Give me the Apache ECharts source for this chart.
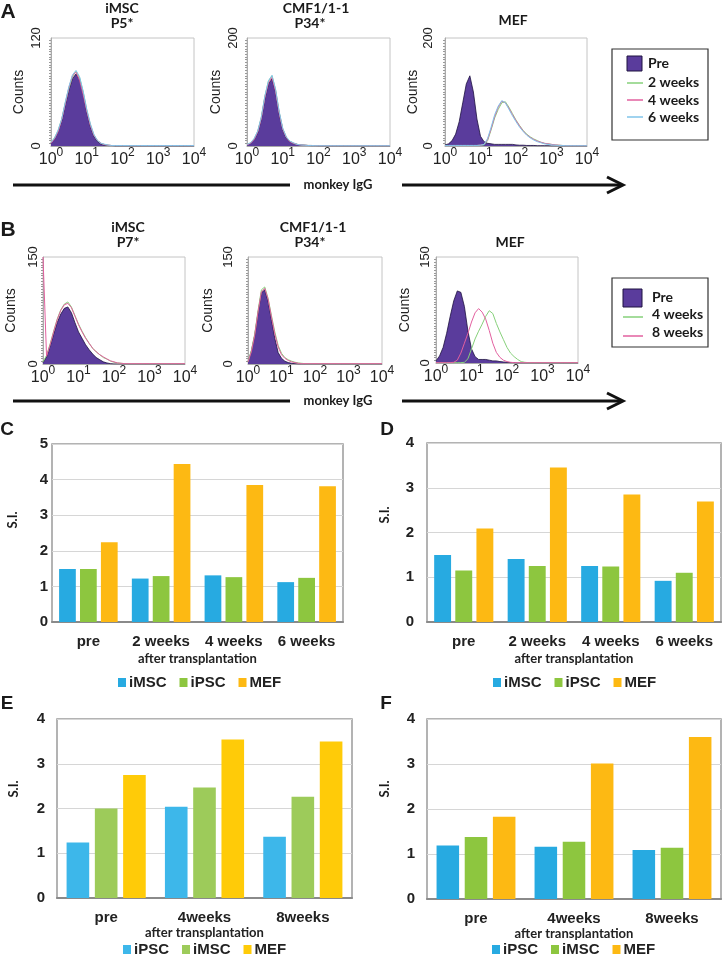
<!DOCTYPE html>
<html>
<head>
<meta charset="utf-8">
<script src="https://cdn.jsdelivr.net/npm/echarts@6/dist/echarts.min.js"></script>
<style>
html, body { margin: 0; padding: 0; background: #fff; }
#chart { width: 722px; height: 955px; }
</style>
</head>
<body>
<div id="chart"></div>
<script>
// fluorescence bins, log10 scale (10^0 .. 10^4)
const logBins = [0, 0.1, 0.2, 0.3, 0.4, 0.5, 0.6, 0.7, 0.8, 0.9,
    1, 1.1, 1.2, 1.3, 1.4, 1.5, 1.6, 1.7, 1.8, 1.9,
    2, 2.1, 2.2, 2.3, 2.4, 2.5, 2.6, 2.7, 2.8, 2.9,
    3, 3.1, 3.2, 3.3, 3.4, 3.5, 3.6, 3.7, 3.8, 3.9, 4];
const decadeTicks = [0, 1, 2, 3, 4];

// A - iMSC P5*
const a1Pre = [3, 8, 16, 28, 46, 62, 75, 80, 74, 58, 38, 22, 11, 5, 2, 1, 0.5, 0.5, 0, 0, 0, 0, 0, 0, 0, 0, 0, 0, 0, 0, 0, 0, 0, 0, 0, 0, 0, 0, 0, 0, 0];
const a1W2 = [4, 9, 17, 30, 48, 64, 77, 83, 76, 60, 40, 24, 12, 6, 3, 1.5, 1, 0.5, 0.5, 0.5, 0.5, 0.5, 0.5, 0.5, 0.5, 0.5, 0.5, 0.5, 0.5, 0.5, 0.5, 0.5, 0.5, 0.5, 0.5, 0.5, 0.5, 0.5, 0.5, 0.5, 0.5];
const a1W4 = [3, 8, 16, 29, 47, 65, 78, 82, 73, 57, 39, 23, 12, 6, 3, 1.5, 1, 0.5, 0.5, 0.5, 0.5, 0.5, 0.5, 0.5, 0.5, 0.5, 0.5, 0.5, 0.5, 0.5, 0.5, 0.5, 0.5, 0.5, 0.5, 0.5, 0.5, 0.5, 0.5, 0.5, 0.5];
const a1W6 = [4, 9, 18, 30, 49, 66, 79, 84, 77, 61, 41, 25, 13, 6, 3, 2, 1, 0.5, 0.5, 0.5, 0.5, 0.5, 0.5, 0.5, 0.5, 0.5, 0.5, 0.5, 0.5, 0.5, 0.5, 0.5, 0.5, 0.5, 0.5, 0.5, 0.5, 0.5, 0.5, 0.5, 0.5];
// A - CMF1/1-1 P34*
const a2Pre = [2, 5, 12, 25, 50, 88, 115, 125, 100, 60, 30, 15, 8, 5, 3, 2, 1.5, 1, 0.5, 0.5, 0, 0, 0, 0, 0, 0, 0, 0, 0, 0, 0, 0, 0, 0, 0, 0, 0, 0, 0, 0, 0];
const a2W2 = [2, 6, 13, 27, 53, 92, 120, 130, 104, 63, 32, 16, 9, 5, 3, 2, 1.5, 1, 1, 0.5, 0.5, 0.5, 0.5, 0.5, 0.5, 0.5, 0.5, 0.5, 0.5, 0.5, 0.5, 0.5, 0.5, 0.5, 0.5, 0.5, 0.5, 0.5, 0.5, 0.5, 0.5];
const a2W4 = [2, 5, 12, 26, 51, 90, 117, 127, 101, 61, 31, 16, 8, 5, 3, 2, 1.5, 1, 1, 0.5, 0.5, 0.5, 0.5, 0.5, 0.5, 0.5, 0.5, 0.5, 0.5, 0.5, 0.5, 0.5, 0.5, 0.5, 0.5, 0.5, 0.5, 0.5, 0.5, 0.5, 0.5];
const a2W6 = [3, 6, 14, 28, 54, 93, 121, 131, 105, 64, 33, 17, 9, 6, 3, 2, 1.5, 1, 1, 0.5, 0.5, 0.5, 0.5, 0.5, 0.5, 0.5, 0.5, 0.5, 0.5, 0.5, 0.5, 0.5, 0.5, 0.5, 0.5, 0.5, 0.5, 0.5, 0.5, 0.5, 0.5];
// A - MEF
const a3Pre = [2, 4, 10, 22, 45, 80, 115, 130, 100, 50, 18, 8, 5, 4, 3, 3, 3, 3, 3, 3, 2, 1.5, 1.5, 1, 1, 1, 0.5, 0.5, 0.5, 0.5, 0, 0, 0, 0, 0, 0, 0, 0, 0, 0, 0];
const a3W2 = [1, 1, 1, 1, 1, 1, 1, 1, 1, 1, 1.5, 2, 10, 30, 52, 68, 80, 82, 72, 60, 48, 38, 29, 22, 17, 13, 10, 7, 5, 4, 3, 2, 1.5, 1, 0.5, 0.5, 0.5, 0.5, 0.5, 0.5, 0.5];
const a3W4 = [1, 1, 1, 1, 1, 1, 1, 1, 1, 1, 1.5, 3, 12, 32, 55, 72, 83, 80, 70, 58, 47, 37, 28, 21, 16, 12, 9, 7, 5, 4, 3, 2, 1.5, 1, 0.5, 0.5, 0.5, 0.5, 0.5, 0.5, 0.5];
const a3W6 = [1, 1, 1, 1, 1, 1, 1, 1, 1, 1, 1.5, 3, 14, 35, 58, 74, 84, 80, 68, 56, 45, 35, 27, 20, 15, 11, 8, 6, 4, 3, 2, 1.5, 1, 1, 0.5, 0.5, 0.5, 0.5, 0.5, 0.5, 0.5];

// B - iMSC P7*
const b1Pre = [2, 10, 25, 42, 58, 70, 78, 80, 72, 58, 45, 36, 27, 20, 14, 9, 6, 3, 1.5, 0.5, 0, 0, 0, 0, 0, 0, 0, 0, 0, 0, 0, 0, 0, 0, 0, 0, 0, 0, 0, 0, 0];
const b1W4 = [3, 12, 28, 46, 63, 76, 84, 87, 80, 68, 56, 46, 37, 29, 22, 17, 13, 9, 7, 4, 2.5, 1.5, 1, 0.5, 0.5, 0.5, 0.5, 0.5, 0.5, 0.5, 0.5, 0.5, 0.5, 0.5, 0.5, 0.5, 0.5, 0.5, 0.5, 0.5, 0.5];
const b1W8 = [150, 11, 27, 45, 62, 75, 83, 85, 79, 67, 55, 45, 36, 29, 22, 17, 13, 10, 7, 4.5, 3, 1.5, 1, 0.5, 0.5, 0.5, 0.5, 0.5, 0.5, 0.5, 0.5, 0.5, 0.5, 0.5, 0.5, 0.5, 0.5, 0.5, 0.5, 0.5, 0.5];
// B - CMF1/1-1 P34*
const b2Pre = [3, 18, 40, 72, 100, 104, 88, 62, 36, 16, 8, 4, 2, 1, 0.5, 0, 0, 0, 0, 0, 0, 0, 0, 0, 0, 0, 0, 0, 0, 0, 0, 0, 0, 0, 0, 0, 0, 0, 0, 0, 0];
const b2W4 = [3, 19, 42, 75, 104, 108, 92, 68, 45, 26, 15, 9, 6, 4, 2.5, 1.5, 1, 0.5, 0.5, 0.5, 0.5, 0.5, 0.5, 0.5, 0.5, 0.5, 0.5, 0.5, 0.5, 0.5, 0.5, 0.5, 0.5, 0.5, 0.5, 0.5, 0.5, 0.5, 0.5, 0.5, 0.5];
const b2W8 = [3, 17, 40, 73, 101, 106, 91, 66, 42, 24, 13, 8, 5, 3, 2, 1, 0.5, 0.5, 0.5, 0.5, 0.5, 0.5, 0.5, 0.5, 0.5, 0.5, 0.5, 0.5, 0.5, 0.5, 0.5, 0.5, 0.5, 0.5, 0.5, 0.5, 0.5, 0.5, 0.5, 0.5, 0.5];
// B - MEF
const b3Pre = [3, 10, 22, 42, 66, 88, 102, 100, 80, 45, 20, 9, 5, 5, 5, 4, 3, 3, 2, 1.5, 1, 0.5, 0.5, 0, 0, 0, 0, 0, 0, 0, 0, 0, 0, 0, 0, 0, 0, 0, 0, 0, 0];
const b3W4 = [0.5, 0.5, 0.5, 0.5, 0.5, 0.5, 0.5, 0.5, 1, 6, 20, 34, 45, 55, 66, 74, 70, 56, 44, 33, 22, 14, 9, 5, 2, 1, 0.5, 0.5, 0.5, 0.5, 0.5, 0.5, 0.5, 0.5, 0.5, 0.5, 0.5, 0.5, 0.5, 0.5, 0.5];
const b3W8 = [0.5, 0.5, 0.5, 0.5, 0.5, 1, 4, 14, 28, 42, 58, 71, 77, 72, 62, 46, 28, 15, 8, 4, 2, 1, 0.5, 0.5, 0.5, 0.5, 0.5, 0.5, 0.5, 0.5, 0.5, 0.5, 0.5, 0.5, 0.5, 0.5, 0.5, 0.5, 0.5, 0.5, 0.5];

// C / D (S.I.)
const cdWeeks = ['pre', '2 weeks', '4 weeks', '6 weeks'];
const cIMSC = [1.49, 1.22, 1.31, 1.12];
const cIPSC = [1.49, 1.29, 1.26, 1.24];
const cMEF = [2.24, 4.44, 3.85, 3.81];
const dIMSC = [1.50, 1.41, 1.25, 0.92];
const dIPSC = [1.15, 1.25, 1.24, 1.10];
const dMEF = [2.09, 3.45, 2.85, 2.69];
// E / F (S.I.)
const efWeeks = ['pre', '4weeks', '8weeks'];
const eIPSC = [1.24, 2.04, 1.37];
const eIMSC = [2.00, 2.47, 2.26];
const eMEF = [2.75, 3.54, 3.50];
const fIPSC = [1.19, 1.16, 1.09];
const fIMSC = [1.38, 1.27, 1.14];
const fMEF = [1.83, 3.01, 3.60];

const purple = '#5a3c9c';
const purpleEdge = '#1e1240';
const lnGreen = '#86d07a';
const lnPink = '#e2609f';
const lnBlue = '#80c4ea';
const blue = '#27aae1';
const green = '#8dc63f';
const gold = '#fdb913';
const blueE = '#3db7ea';
const greenE = '#9dcb5a';
const goldE = '#ffcb08';

const arial = "'Liberation Sans', Arial, sans-serif";
const lato = "Lato, 'Open Sans', sans-serif";

const histGrids = [
    {left: 51, top: 38, width: 143, height: 108},
    {left: 247, top: 38, width: 143, height: 108},
    {left: 445, top: 38, width: 142, height: 108},
    {left: 43, top: 257, width: 142, height: 107},
    {left: 248, top: 257, width: 134, height: 107},
    {left: 436, top: 257, width: 142, height: 106}
];
const histMax = [120, 200, 200, 150, 150, 150];
const labelMargin = [8, 7, 10, 3, 13, 4];
const nameGap = [25, 24, 25, 25, 33, 24];

const barGrids = [
    {left: 52, top: 444, width: 291, height: 178},
    {left: 427, top: 443, width: 294, height: 179},
    {left: 57, top: 719, width: 295, height: 179},
    {left: 427, top: 719, width: 294, height: 180}
];
const barMax = [5, 4, 4, 4];
const barLabelMargin = [4, 13, 12, 12];
const barNameGap = [30, 30, 25, 25];

const grids = [];
const xAxes = [];
const yAxes = [];

histGrids.forEach(function (g, i) {
    grids.push(Object.assign({show: true, borderColor: '#c4c4c4', borderWidth: 1}, g));
    xAxes.push({
        type: 'value', gridIndex: i, min: 0, max: 4, interval: 1,
        axisLine: {lineStyle: {color: '#aaa'}},
        axisTick: {show: false},
        splitLine: {show: false},
        axisLabel: {
            margin: 1,
            color: '#222',
            formatter: function (v) {
                return decadeTicks.indexOf(v) >= 0 ? '{b|10}{s|' + v + '}' : '';
            },
            rich: {
                b: {fontFamily: arial, fontSize: 16, lineHeight: 21, verticalAlign: 'bottom', color: '#222'},
                s: {fontFamily: arial, fontSize: 12, lineHeight: 13, verticalAlign: 'top', color: '#222'}
            }
        }
    });
    yAxes.push({
        type: 'value', gridIndex: i, min: 0, max: histMax[i], interval: histMax[i],
        name: 'Counts', nameLocation: 'middle', nameGap: nameGap[i], nameRotate: 90,
        nameTextStyle: {fontFamily: arial, fontSize: 14, color: '#222'},
        axisLine: {show: true, lineStyle: {color: '#aaa'}},
        axisTick: {show: false},
        minorTick: {show: true, splitNumber: 40, length: 2, lineStyle: {color: '#999'}},
        splitLine: {show: false},
        axisLabel: {rotate: 90, margin: labelMargin[i], fontFamily: arial, fontSize: 13, color: '#222'}
    });
});

barGrids.forEach(function (g, k) {
    const i = k + 6;
    grids.push(Object.assign({show: true, borderColor: '#9a9a9a', borderWidth: 1.5}, g));
    xAxes.push({
        type: 'category', gridIndex: i, data: k < 2 ? cdWeeks : efWeeks,
        name: 'after transplantation', nameLocation: 'middle', nameGap: barNameGap[k],
        nameTextStyle: {fontFamily: lato, fontWeight: 'bold', fontSize: 13, color: '#222'},
        axisLine: {lineStyle: {color: '#8a8a8a', width: 2}},
        axisTick: {show: false},
        axisLabel: {interval: 0, margin: 12, fontFamily: arial, fontWeight: 'bold', fontSize: 15, color: '#222'}
    });
    yAxes.push({
        type: 'value', gridIndex: i, min: 0, max: barMax[k], interval: 1,
        axisLine: {show: false},
        axisTick: {show: false},
        splitLine: {lineStyle: {color: '#d6d6d6', width: 1}},
        axisLabel: {margin: barLabelMargin[k], fontFamily: arial, fontWeight: 'bold', fontSize: 15, color: '#222'}
    });
});

function hist(name, values, axis, color, filled) {
    const s = {
        type: 'line', name: name, xAxisIndex: axis, yAxisIndex: axis,
        data: logBins.map(function (b, j) { return [b, values[j]]; }),
        symbol: 'none', silent: true,
        lineStyle: {color: color, width: filled ? 0.8 : 1}
    };
    if (filled) {
        s.areaStyle = {color: purple, opacity: 1};
    }
    return s;
}

function bars(name, values, axis, color) {
    return {
        type: 'bar', name: name, xAxisIndex: axis, yAxisIndex: axis, data: values,
        barWidth: '23%', barGap: '25%', itemStyle: {color: color}
    };
}

const series = [
    hist('Pre', a1Pre, 0, purpleEdge, true),
    hist('2 weeks', a1W2, 0, lnGreen),
    hist('4 weeks', a1W4, 0, lnPink),
    hist('6 weeks', a1W6, 0, lnBlue),
    hist('Pre', a2Pre, 1, purpleEdge, true),
    hist('2 weeks', a2W2, 1, lnGreen),
    hist('4 weeks', a2W4, 1, lnPink),
    hist('6 weeks', a2W6, 1, lnBlue),
    hist('Pre', a3Pre, 2, purpleEdge, true),
    hist('2 weeks', a3W2, 2, lnGreen),
    hist('4 weeks', a3W4, 2, lnPink),
    hist('6 weeks', a3W6, 2, lnBlue),
    hist('Pre', b1Pre, 3, purpleEdge, true),
    hist('4 weeks', b1W4, 3, lnGreen),
    hist('8 weeks', b1W8, 3, lnPink),
    hist('Pre', b2Pre, 4, purpleEdge, true),
    hist('4 weeks', b2W4, 4, lnGreen),
    hist('8 weeks', b2W8, 4, lnPink),
    hist('Pre', b3Pre, 5, purpleEdge, true),
    hist('4 weeks', b3W4, 5, lnGreen),
    hist('8 weeks', b3W8, 5, lnPink),
    bars('iMSC', cIMSC, 6, blue),
    bars('iPSC', cIPSC, 6, green),
    bars('MEF', cMEF, 6, gold),
    bars('iMSC', dIMSC, 7, blue),
    bars('iPSC', dIPSC, 7, green),
    bars('MEF', dMEF, 7, gold),
    bars('iPSC', eIPSC, 8, blueE),
    bars('iMSC', eIMSC, 8, greenE),
    bars('MEF', eMEF, 8, goldE),
    bars('iPSC', fIPSC, 9, blue),
    bars('iMSC', fIMSC, 9, green),
    bars('MEF', fMEF, 9, gold)
];

function barLegend(left, top, names, colors) {
    return {
        left: left, top: top, padding: 0, itemWidth: 8, itemHeight: 9, itemGap: 13,
        selectedMode: false, icon: 'rect',
        textStyle: {fontFamily: arial, fontWeight: 'bold', fontSize: 15, color: '#222', padding: [0, 0, 0, -2]},
        data: names.map(function (n, j) { return {name: n, itemStyle: {color: colors[j]}}; })
    };
}

const legends = [
    barLegend(118, 675, ['iMSC', 'iPSC', 'MEF'], [blue, green, gold]),
    barLegend(493, 675, ['iMSC', 'iPSC', 'MEF'], [blue, green, gold]),
    barLegend(123, 942, ['iPSC', 'iMSC', 'MEF'], [blueE, greenE, goldE]),
    barLegend(492, 942, ['iPSC', 'iMSC', 'MEF'], [blue, green, gold])
];

function txt(x, y, text, font, opts) {
    return {
        type: 'text', x: x, y: y, silent: true,
        style: Object.assign({text: text, font: font, fill: '#1a1a1a', align: 'center', verticalAlign: 'middle'}, opts || {})
    };
}
function rotTxt(x, y, text, font) {
    const t = txt(x, y, text, font);
    t.rotation = Math.PI / 2;
    return t;
}
function arrowRow(y) {
    return [
        {type: 'line', silent: true, shape: {x1: 13, y1: y, x2: 290, y2: y}, style: {stroke: '#111', lineWidth: 3}},
        {type: 'line', silent: true, shape: {x1: 402, y1: y, x2: 622, y2: y}, style: {stroke: '#111', lineWidth: 3}},
        {type: 'polyline', silent: true, shape: {points: [[607, y - 8], [623, y], [607, y + 8]]}, style: {stroke: '#111', lineWidth: 3, fill: null}},
        txt(338, y, 'monkey IgG', 'bold 13px ' + lato)
    ];
}
function legendBox(x, y, w, h, sq, rows) {
    const els = [
        {type: 'rect', silent: true, shape: {x: x, y: y, width: w, height: h}, style: {fill: '#fff', stroke: '#333', lineWidth: 1.2}},
        {type: 'rect', silent: true, shape: sq.rect, style: {fill: purple, stroke: purpleEdge, lineWidth: 1}},
        txt(sq.tx, sq.ty, 'Pre', 'bold 14px ' + lato, {align: 'left'})
    ];
    rows.forEach(function (r) {
        els.push({type: 'line', silent: true, shape: {x1: r.x1, y1: r.ly, x2: r.x2, y2: r.ly}, style: {stroke: r.color, lineWidth: 1.5}});
        els.push(txt(sq.tx, r.ty, r.label, 'bold 14px ' + lato, {align: 'left'}));
    });
    return els;
}

const letterFont = 'bold 21px ' + arial;
const smallLetterFont = 'bold 19px ' + arial;
const titleFont = 'bold 14px ' + lato;
const siFont = 'bold 13px ' + lato;

const graphics = [].concat(
    [
        txt(8, 12, 'A', letterFont),
        txt(8, 230, 'B', letterFont),
        txt(7, 430, 'C', smallLetterFont),
        txt(387, 430, 'D', smallLetterFont),
        txt(7, 704, 'E', smallLetterFont),
        txt(386, 704, 'F', smallLetterFont),
        txt(122, 8, 'iMSC', titleFont),
        txt(122, 23, 'P5*', titleFont),
        txt(316, 8, 'CMF1/1-1', titleFont),
        txt(310, 23, 'P34*', titleFont),
        txt(513, 20, 'MEF', titleFont),
        txt(128, 227, 'iMSC', titleFont),
        txt(128, 242, 'P7*', titleFont),
        txt(313, 227, 'CMF1/1-1', titleFont),
        txt(310, 242, 'P34*', titleFont),
        txt(510, 242, 'MEF', titleFont),
        rotTxt(13, 520, 'S.I.', siFont),
        rotTxt(385, 515, 'S.I.', siFont),
        rotTxt(14, 789, 'S.I.', siFont),
        rotTxt(385, 789, 'S.I.', siFont)
    ],
    arrowRow(185),
    arrowRow(401),
    legendBox(612, 49, 96, 91, {rect: {x: 627, y: 56, width: 15, height: 15}, tx: 648, ty: 63}, [
        {label: '2 weeks', color: lnGreen, x1: 627, x2: 643, ly: 83, ty: 82},
        {label: '4 weeks', color: lnPink, x1: 627, x2: 643, ly: 100, ty: 100},
        {label: '6 weeks', color: lnBlue, x1: 627, x2: 643, ly: 117, ty: 117}
    ]),
    legendBox(612, 278, 96, 69, {rect: {x: 623, y: 289, width: 19, height: 18}, tx: 652, ty: 297}, [
        {label: '4 weeks', color: lnGreen, x1: 623, x2: 643, ly: 317, ty: 314},
        {label: '8 weeks', color: lnPink, x1: 623, x2: 643, ly: 336, ty: 332}
    ])
);

const chart = echarts.init(document.getElementById('chart'), null, {renderer: 'canvas'});
chart.setOption({
    animation: false,
    backgroundColor: '#fff',
    grid: grids,
    xAxis: xAxes,
    yAxis: yAxes,
    legend: legends,
    series: series,
    graphic: graphics
});
</script>
</body>
</html>
